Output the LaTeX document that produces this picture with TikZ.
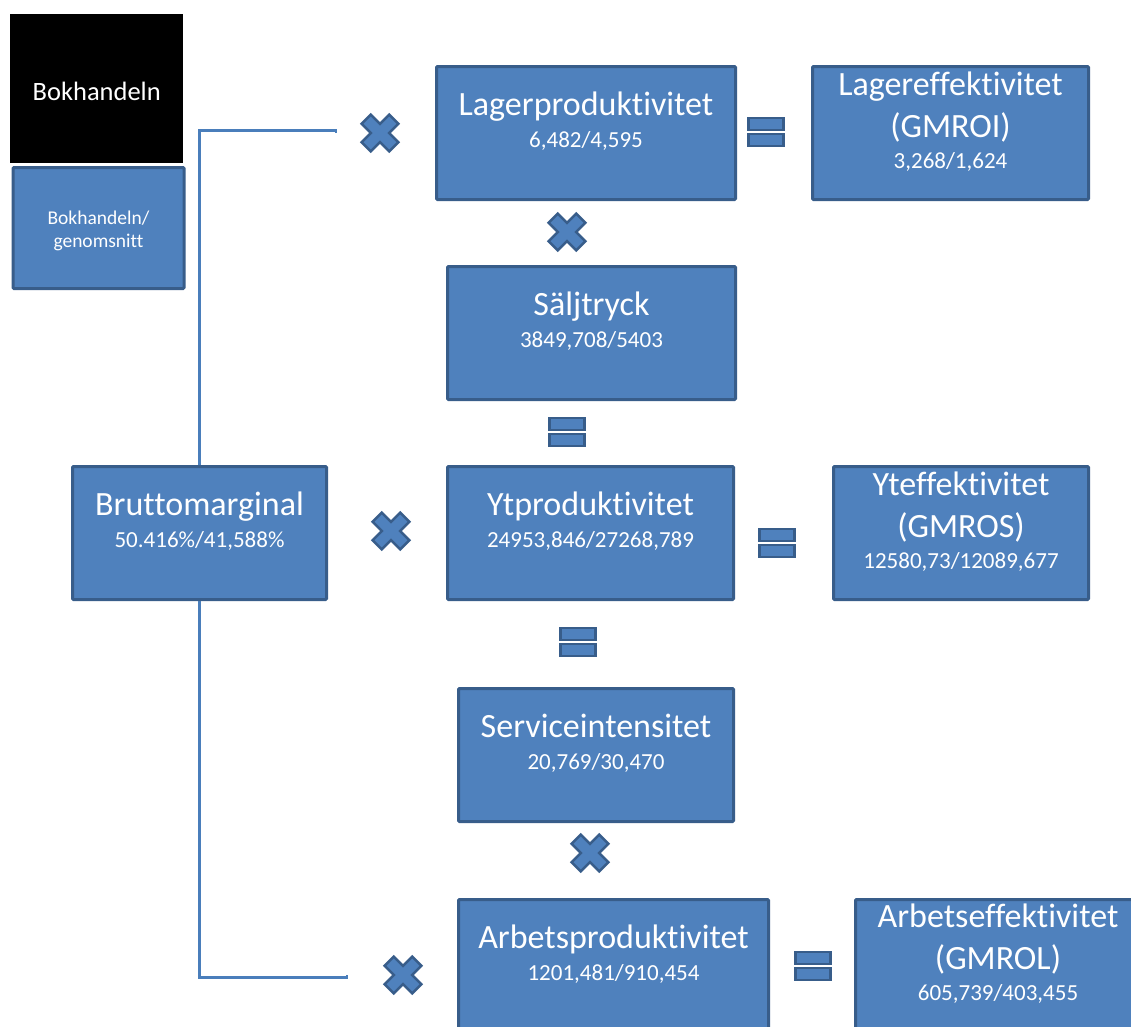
\documentclass[tikz,border=0pt]{standalone}
\usepackage{fontspec}
\setmainfont{Carlito}[Ligatures={NoCommon,TeX},RawFeature={-liga}]
\definecolor{boxfill}{HTML}{4F81BD}
\definecolor{boxline}{HTML}{385D8A}
\definecolor{conn}{HTML}{4A7EBB}
\begin{document}
\begin{tikzpicture}[x=1pt,y=-1pt,
  mbox/.style={draw=boxline,fill=boxfill,line width=3pt,rounded corners=1pt,inner sep=0pt,anchor=north west},
  txt/.style={text=white,inner sep=0pt,anchor=base},
  ttl/.style={txt,font=\fontsize{34}{40}\selectfont},
  val/.style={txt,font=\fontsize{23}{28}\selectfont},
  symb/.style={draw=boxline,fill=boxfill,line width=2.5pt,line join=miter},
  conline/.style={draw=conn,line width=2.2pt},
  mult/.pic={\path[symb,rotate=45] (-6.5,-19.5) -- (6.5,-19.5) -- (6.5,-6.5) -- (19.5,-6.5) -- (19.5,6.5) -- (6.5,6.5) -- (6.5,19.5) -- (-6.5,19.5) -- (-6.5,6.5) -- (-19.5,6.5) -- (-19.5,-6.5) -- (-6.5,-6.5) -- cycle;},
  eqs/.pic={\path[symb] (-17.5,-14) rectangle (17.5,-2); \path[symb] (-17.5,2) rectangle (17.5,14);}
]
\useasboundingbox (0,0) rectangle (1131,1026);
\clip (0,0) rectangle (1131,1026);
\fill[white] (0,0) rectangle (1131,1026);

% legend
\node[fill=black,minimum width=173pt,minimum height=149pt,inner sep=0pt,anchor=north west] (leg1) at (10,14) {};
\node[txt,font=\fontsize{26.5}{30}\selectfont] (leg1t) at ([yshift=-86pt]leg1.north) {Bokhandeln};
\node[mbox,minimum width=171pt,minimum height=121pt] (leg2) at (11.5,166) {};
\node[txt,font=\fontsize{19.5}{24}\selectfont] (leg2a) at ([yshift=-58pt]leg2.north) {Bokhandeln/};
\node[txt,font=\fontsize{19.5}{24}\selectfont] (leg2b) at ([yshift=-81pt]leg2.north) {genomsnitt};

% boxes
\node[mbox,minimum width=299pt,minimum height=133pt] (lp) at (435,65) {};
\node[mbox,minimum width=276pt,minimum height=133pt] (le) at (811,65) {};
\node[mbox,minimum width=288pt,minimum height=133pt] (st) at (446,265) {};
\node[mbox,minimum width=286pt,minimum height=133pt] (yp) at (446,465) {};
\node[mbox,minimum width=255pt,minimum height=133pt] (ye) at (832,465) {};
\node[mbox,minimum width=254pt,minimum height=133pt] (bm) at (71,465) {};
\node[mbox,minimum width=275pt,minimum height=133pt] (si) at (457,687) {};
\node[mbox,minimum width=310pt,minimum height=160pt] (ap) at (457,898) {};
\node[mbox,minimum width=290pt,minimum height=160pt] (ae) at (854,898) {};

% texts: two-line boxes
\node[ttl] (lpt) at ([yshift=-50pt]lp.north) {Lagerproduktivitet};
\node[val] (lpv) at ([yshift=-82pt]lp.north) {6,482/4,595};
\node[ttl] (stt) at ([yshift=-50pt]st.north) {Säljtryck};
\node[val] (stv) at ([yshift=-82pt]st.north) {3849,708/5403};
\node[ttl] (ypt) at ([yshift=-50pt]yp.north) {Ytproduktivitet};
\node[val] (ypv) at ([yshift=-82pt]yp.north) {24953,846/27268,789};
\node[ttl] (bmt) at ([yshift=-50pt]bm.north) {Bruttomarginal};
\node[val] (bmv) at ([yshift=-82pt]bm.north) {50.416\%/41,588\%};
\node[ttl] (sit) at ([yshift=-50pt]si.north) {Serviceintensitet};
\node[val] (siv) at ([yshift=-82pt]si.north) {20,769/30,470};
\node[ttl] (apt) at ([yshift=-50pt]ap.north) {Arbetsproduktivitet};
\node[val] (apv) at ([yshift=-82pt]ap.north) {1201,481/910,454};
% texts: three-line boxes
\node[ttl] (let) at ([yshift=-30pt]le.north) {Lagereffektivitet};
\node[ttl] (le2) at ([yshift=-72pt]le.north) {(GMROI)};
\node[val] (lev) at ([yshift=-103pt]le.north) {3,268/1,624};
\node[ttl] (yet) at ([yshift=-30pt]ye.north) {Yteffektivitet};
\node[ttl] (ye2) at ([yshift=-72pt]ye.north) {(GMROS)};
\node[val] (yev) at ([yshift=-103pt]ye.north) {12580,73/12089,677};
\node[ttl] (aet) at (998,927) {Arbetseffektivitet};
\node[ttl] (ae2) at (998,969) {(GMROL)};
\node[val] (aev) at (998,1000) {605,739/403,455};

% operators
\pic at (380,133) {mult};
\pic at (567,232) {mult};
\pic at (391,531) {mult};
\pic at (590,853) {mult};
\pic at (403,975) {mult};
\pic at (766,132) {eqs};
\pic at (567,432) {eqs};
\pic at (777,543) {eqs};
\pic at (578,642) {eqs};
\pic at (813,966) {eqs};

% connectors
\coordinate (topend) at (336,130.5);
\coordinate (botend) at (347,977.5);
\draw[conline] (bm.north) |- (topend) -- ++(0,2.5);
\draw[conline] (bm.south) |- (botend) -- ++(0,-3);
\end{tikzpicture}
\end{document}
